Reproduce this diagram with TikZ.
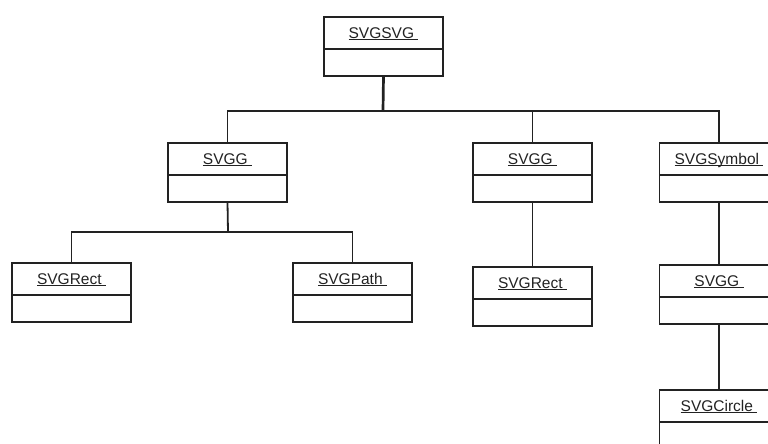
\documentclass[tikz,border=0pt]{standalone}
\usepackage{fontspec}
\setmainfont{Liberation Sans}
\definecolor{ink}{HTML}{222222}
\newcommand{\clsname}[1]{\setbox0=\hbox{#1\ }\rlap{\raisebox{-1.9pt}{\rule{\wd0}{1.3pt}}}\box0}
\begin{document}
\begin{tikzpicture}[x=1pt,y=-1pt,
  namebox/.style={draw=ink, text=ink, line width=1.8pt, minimum width=119pt, minimum height=32pt,
    inner sep=0pt, outer sep=0pt, text height=11pt, text depth=0pt, anchor=north west,
    font=\fontsize{15.5}{18}\selectfont},
  bodybox/.style={draw=ink, line width=1.8pt, minimum width=119pt, minimum height=27pt,
    inner sep=0pt, outer sep=0pt, anchor=north},
  link/.style={draw=ink, line width=1.8pt},
  mainlink/.style={draw=ink, line width=2.7pt}]
\useasboundingbox (0,0) rectangle (768,444);
\clip (0,0) rectangle (768,444);
% root
\node[namebox] (svg) at (324,17) {\clsname{SVGSVG}};
\node[bodybox] (svgb) at (svg.south) {};
% level 1
\node[namebox] (gl) at (168,143) {\clsname{SVGG}};
\node[bodybox] (glb) at (gl.south) {};
\node[namebox] (gm) at (473,143) {\clsname{SVGG}};
\node[bodybox] (gmb) at (gm.south) {};
\node[namebox] (sym) at (659.5,143) {\clsname{SVGSymbol}};
\node[bodybox] (symb) at (sym.south) {};
% level 2
\node[namebox] (rl) at (12,263) {\clsname{SVGRect}};
\node[bodybox] (rlb) at (rl.south) {};
\node[namebox] (path) at (293,263) {\clsname{SVGPath}};
\node[bodybox] (pathb) at (path.south) {};
\node[namebox] (rm) at (473,267) {\clsname{SVGRect}};
\node[bodybox] (rmb) at (rm.south) {};
\node[namebox] (gr) at (659.5,265) {\clsname{SVGG}};
\node[bodybox] (grb) at (gr.south) {};
% level 3
\node[namebox] (circ) at (659.5,390) {\clsname{SVGCircle}};
\node[bodybox] (circb) at (circ.south) {};
% connectors
\coordinate (bus) at (383,111);
\coordinate (bus2) at (228,232);
\draw[mainlink] (svgb.south) -- (bus);
\draw[link] (gl.north) |- (bus);
\draw[link] (sym.north) |- (bus);
\draw[link] (gm.north) -- (gm.north |- bus);
\draw[link] (glb.south) -- (bus2);
\draw[link] (rl.north) |- (bus2);
\draw[link] (path.north) |- (bus2);
\draw[link] (gmb.south) -- (rm.north);
\draw[link] (symb.south) -- (gr.north);
\draw[link] (grb.south) -- (circ.north);
\end{tikzpicture}
\end{document}
